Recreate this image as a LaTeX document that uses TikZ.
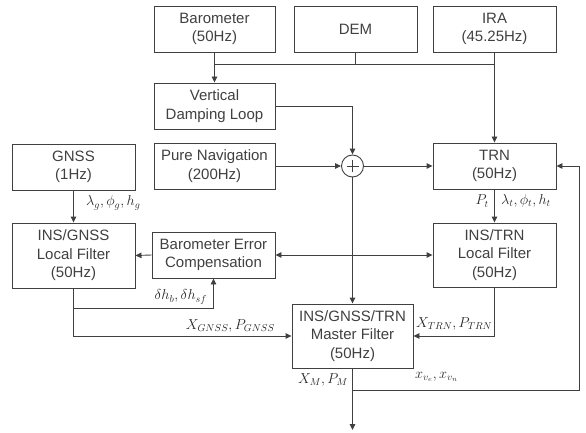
\documentclass[tikz,border=0pt]{standalone}
\usepackage{fontspec}
\setmainfont{Liberation Sans}
\usetikzlibrary{arrows.meta}
\definecolor{ink}{RGB}{64,64,64}
\definecolor{mathink}{RGB}{40,40,40}
\begin{document}
\begin{tikzpicture}[x=1pt,y=-1pt,
  box/.style={draw=ink,line width=0.9pt,rectangle,inner sep=0pt,align=center,text=ink,
    font=\fontsize{15}{18.5}\selectfont},
  conn/.style={draw=ink,line width=0.9pt},
  arr/.style={conn,-{Triangle[length=6pt,width=5.5pt]}},
  lab/.style={text=mathink,inner sep=0pt,font=\fontsize{14}{16}\selectfont}]
\useasboundingbox (0,0) rectangle (586,433);
\node[box,minimum width=121pt,minimum height=46pt] (baro) at (214.5,29) {Barometer\\(50Hz)};
\node[box,minimum width=123pt,minimum height=46pt] (dem) at (355.5,29) {DEM};
\node[box,minimum width=123pt,minimum height=46pt] (ira) at (494.5,29) {IRA\\(45.25Hz)};
\node[box,minimum width=121pt,minimum height=46pt] (vdl) at (214.5,106) {Vertical\\Damping Loop};
\node[box,minimum width=121pt,minimum height=46pt] (pn) at (214.5,166) {Pure Navigation\\(200Hz)};
\node[box,minimum width=123pt,minimum height=46pt] (gnss) at (73.5,167) {GNSS\\(1Hz)};
\node[box,minimum width=123pt,minimum height=46pt] (trn) at (494.5,166) {TRN\\(50Hz)};
\node[draw=ink,line width=0.9pt,circle,minimum size=22pt,inner sep=0pt] (sum) at (352.5,166) {};
\draw[ink,line width=0.8pt] ([xshift=-6pt]sum.center) -- ([xshift=6pt]sum.center)
  ([yshift=-6pt]sum.center) -- ([yshift=6pt]sum.center);
\node[box,minimum width=123pt,minimum height=65pt] (igl) at (73.5,255.5) {INS/GNSS\\Local Filter\\(50Hz)};
\node[box,minimum width=123pt,minimum height=46pt] (bec) at (213.5,255) {Barometer Error\\Compensation};
\node[box,minimum width=123pt,minimum height=64pt] (itl) at (494.5,255) {INS/TRN\\Local Filter\\(50Hz)};
\node[box,minimum width=121pt,minimum height=64pt] (master) at (352.5,336) {INS/GNSS/TRN\\Master Filter\\(50Hz)};
\coordinate (out) at (352.5,430);
\coordinate (bus) at (214.5,64);
\coordinate (fb) at (579,390);
% top connections
\draw[arr] (baro.south) -- (vdl.north);
\draw[conn] (bus) -- (494.5,64);
\draw[conn] (dem.south) -- (dem.south |- bus);
\draw[arr] (ira.south) -- (trn.north);
\draw[arr] (vdl.east) -| (sum.north);
\draw[arr] (pn.east) -- (sum.west);
\draw[arr] (sum.east) -- (trn.west);
\draw[arr] (sum.south) -- (master.north);
\draw[arr] (gnss.south) -- (igl.north);
\draw[arr] (trn.south) -- (itl.north);
\draw[arr] (bec.west) -- (igl.east);
\draw[conn,{Triangle[length=6pt,width=5.5pt]}-{Triangle[length=6pt,width=5.5pt]}] (bec.east) -- (itl.west);
\draw[arr] (igl.south) |- (master.west);
\draw[arr] (73.5,308) -| (bec.south);
\draw[arr] (itl.south) |- (master.east);
\draw[arr] (master.south) -- (out);
\draw[arr] (master.south |- fb) -- (fb) |- (trn.east);
% labels
\node[lab,anchor=west] (lg) at (86,203) {$\lambda_g,\phi_g,h_g$};
\node[lab,anchor=east] (lpt) at (489,201) {$P_t$};
\node[lab,anchor=west] (llt) at (501,201) {$\lambda_t,\phi_t,h_t$};
\node[lab,anchor=east] (ldh) at (207,297) {$\delta h_b,\delta h_{sf}$};
\node[lab,anchor=east] (lxg) at (275,326) {$X_{GNSS},P_{GNSS}$};
\node[lab,anchor=west] (lxt) at (416,324) {$X_{TRN},P_{TRN}$};
\node[lab,anchor=east] (lxm) at (348,380) {$X_M,P_M$};
\node[lab,anchor=west] (lxv) at (415,377) {$x_{v_e},x_{v_n}$};
\end{tikzpicture}
\end{document}
